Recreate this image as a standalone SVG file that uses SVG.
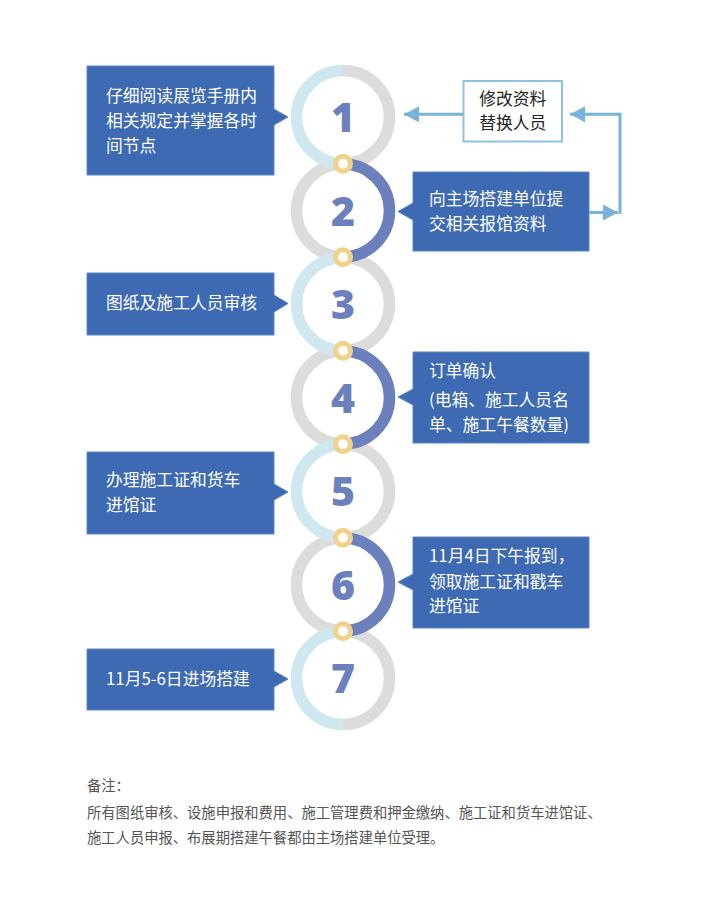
<svg xmlns="http://www.w3.org/2000/svg" width="701" height="906" viewBox="0 0 701 906">
<style>
.gray{fill:none;stroke:#dcdcdc;stroke-width:11.5}
.lb{fill:none;stroke:#cfe8ef;stroke-width:11.5}
.db{fill:none;stroke:#6b80bd;stroke-width:11.5}
.dot{fill:#fff;stroke:#f2d28b;stroke-width:5}
.num{font-family:"Open Sans","DejaVu Sans",sans-serif;font-weight:800;font-size:41px;fill:#6b80bd;text-anchor:middle}
.box{fill:#3d6ab3;stroke:#5a86c4;stroke-width:1}
.bt{font-family:"Noto Sans CJK SC","Noto Sans",sans-serif;font-size:16.8px;fill:#fff}
.ct{font-family:"Noto Sans CJK SC","Noto Sans",sans-serif;font-size:16.8px;fill:#222;text-anchor:middle}
.note{font-family:"Noto Sans CJK SC","Noto Sans",sans-serif;font-size:14.3px;fill:#555}
.conn{fill:none;stroke:#79b2dc;stroke-width:3}
</style>
<defs>
<marker id="ah" markerUnits="userSpaceOnUse" markerWidth="16" markerHeight="16" viewBox="0 0 16 16" refX="15" refY="8" orient="auto">
<path d="M0,0 L15,8 L0,16 Z" fill="#79b2dc"/>
</marker>
</defs>
<rect width="701" height="906" fill="#fff"/>

<!-- gray halves -->
<g id="rings-gray">
<path class="gray" d="M343,70.5 A46.5,46.5 0 0 1 343,163.5"/>
<path class="gray" d="M343,164 A46.5,46.5 0 0 0 343,257"/>
<path class="gray" d="M343,257.5 A46.5,46.5 0 0 1 343,350.5"/>
<path class="gray" d="M343,351 A46.5,46.5 0 0 0 343,444"/>
<path class="gray" d="M343,444.5 A46.5,46.5 0 0 1 343,537.5"/>
<path class="gray" d="M343,538 A46.5,46.5 0 0 0 343,631"/>
<path class="gray" d="M343,631.5 A46.5,46.5 0 0 1 343,724.5"/>
</g>
<!-- colored halves -->
<g id="rings-color">
<path class="lb" d="M343,70.5 A46.5,46.5 0 0 0 343,163.5"/>
<path class="db" d="M343,164 A46.5,46.5 0 0 1 343,257"/>
<path class="lb" d="M343,257.5 A46.5,46.5 0 0 0 343,350.5"/>
<path class="db" d="M343,351 A46.5,46.5 0 0 1 343,444"/>
<path class="lb" d="M343,444.5 A46.5,46.5 0 0 0 343,537.5"/>
<path class="db" d="M343,538 A46.5,46.5 0 0 1 343,631"/>
<path class="lb" d="M343,631.5 A46.5,46.5 0 0 0 343,724.5"/>
</g>
<g id="links">
<circle class="dot" cx="343" cy="163.75" r="7.5"/>
<circle class="dot" cx="343" cy="257.25" r="7.5"/>
<circle class="dot" cx="343" cy="350.75" r="7.5"/>
<circle class="dot" cx="343" cy="444.25" r="7.5"/>
<circle class="dot" cx="343" cy="537.75" r="7.5"/>
<circle class="dot" cx="343" cy="631.25" r="7.5"/>
</g>
<g id="numbers">
<text class="num" x="343" y="132">1</text>
<text class="num" x="343" y="225.5">2</text>
<text class="num" x="343" y="319">3</text>
<text class="num" x="343" y="412.5">4</text>
<text class="num" x="343" y="506">5</text>
<text class="num" x="343" y="599.5">6</text>
<text class="num" x="343" y="693">7</text>
</g>

<g id="step1">
<path class="box" d="M87,66 H274 V109 L288,117 L274,125 V175 H87 Z"/>
<text class="bt" x="106" y="102">仔细阅读展览手册内</text>
<text class="bt" x="106" y="127">相关规定并掌握各时</text>
<text class="bt" x="106" y="152">间节点</text>
</g>
<g id="step2">
<path class="box" d="M413,172 H589 V251 H413 V220 L398,211.5 L413,203 Z"/>
<text class="bt" x="429" y="205">向主场搭建单位提</text>
<text class="bt" x="429" y="230">交相关报馆资料</text>
</g>
<g id="step3">
<path class="box" d="M87,273 H274 V295 L288,303.5 L274,312 V335 H87 Z"/>
<text class="bt" x="106" y="309">图纸及施工人员审核</text>
</g>
<g id="step4">
<path class="box" d="M413,352 H589 V443 H413 V405 L398,397 L413,389 Z"/>
<text class="bt" x="429" y="377">订单确认</text>
<text class="bt" x="429" y="406">(电箱、施工人员名</text>
<text class="bt" x="429" y="431">单、施工午餐数量)</text>
</g>
<g id="step5">
<path class="box" d="M87,452 H274 V484 L288,492 L274,500 V534 H87 Z"/>
<text class="bt" x="106" y="486">办理施工证和货车</text>
<text class="bt" x="106" y="511">进馆证</text>
</g>
<g id="step6">
<path class="box" d="M413,537 H589 V628 H413 V590 L398,582 L413,574 Z"/>
<text class="bt" x="429" y="562">11月4日下午报到，</text>
<text class="bt" x="429" y="588">领取施工证和戳车</text>
<text class="bt" x="429" y="612">进馆证</text>
</g>
<g id="step7">
<path class="box" d="M87,649 H274 V671 L288,679 L274,687 V710 H87 Z"/>
<text class="bt" x="106" y="685">11月5-6日进场搭建</text>
</g>
<g id="revise">
<rect x="463.5" y="81" width="98.5" height="60.5" fill="#fff" stroke="#8fc0e3" stroke-width="2"/>
<text class="ct" x="512.7" y="105">修改资料</text>
<text class="ct" x="512.7" y="129">替换人员</text>
</g>
<g id="connectors">
<path class="conn" d="M463,114.3 H404" marker-end="url(#ah)"/>
<path class="conn" d="M589,212.5 H618" marker-end="url(#ah)"/>
<path class="conn" d="M620,214 V114.3 H570" marker-end="url(#ah)"/>
</g>
<g id="notes">
<text class="note" x="87" y="791">备注：</text>
<text class="note" x="87" y="818">所有图纸审核、设施申报和费用、施工管理费和押金缴纳、施工证和货车进馆证、</text>
<text class="note" x="87" y="843">施工人员申报、布展期搭建午餐都由主场搭建单位受理。</text>
</g>
</svg>
